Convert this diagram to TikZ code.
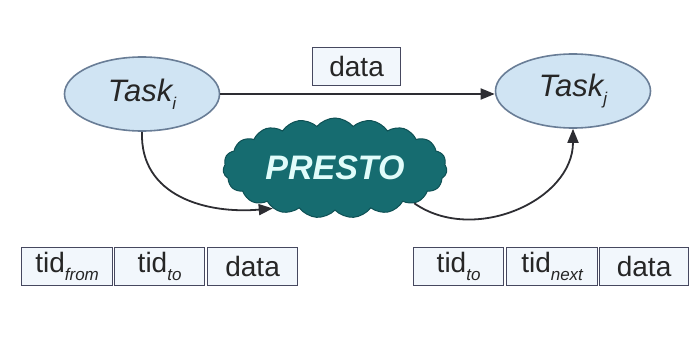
\documentclass[tikz,border=0pt]{standalone}
\usepackage{fontspec}
\setmainfont{Liberation Sans}
\usetikzlibrary{shapes.symbols,shapes.geometric,arrows.meta}

\definecolor{taskfill}{RGB}{208,228,243}
\definecolor{taskline}{RGB}{105,125,150}
\definecolor{cloudfill}{RGB}{22,108,112}
\definecolor{cloudline}{RGB}{14,80,84}
\definecolor{cloudtext}{RGB}{225,252,250}
\definecolor{boxfill}{RGB}{242,247,252}
\definecolor{boxline}{RGB}{70,72,95}
\definecolor{arrowgray}{RGB}{45,45,50}

% lowered italic subscript used in the field and task labels
\newcommand\lowsub[1]{\raisebox{-0.5ex}{\fontsize{17}{19}\selectfont\itshape #1}}

\tikzset{
  task/.style={ellipse, draw=taskline, line width=1.6pt, fill=taskfill,
    minimum width=155pt, minimum height=74pt, inner sep=0pt,
    text=black!85, font=\fontsize{31}{35}\selectfont\itshape},
  field/.style={rectangle, draw=boxline, line width=1.2pt, fill=boxfill,
    minimum height=38pt, inner sep=0pt, anchor=north west,
    font=\fontsize{28}{32}\selectfont, text=black!85},
  flow/.style={draw=arrowgray, line width=1.8pt,
    -{Triangle[length=14pt,width=11pt]}},
}

\begin{document}
\begin{tikzpicture}[x=1pt,y=-1pt]
  \useasboundingbox (0,0) rectangle (699,345);

  % the two tasks
  \node[task] (ti) at (142,94) {Task\lowsub{i}};
  \node[task] (tj) at (573,91) {Task\lowsub{j}};

  % direct data transfer
  \draw[flow] (ti.east) -- (tj.west |- ti.east);
  \node[field, minimum width=88pt] (dtop) at (312,47) {data};

  % the PRESTO middleware cloud
  \node[cloud, cloud puffs=19, cloud puff arc=100, aspect=2.3,
        draw=cloudline, line width=1pt, fill=cloudfill,
        minimum width=224pt, minimum height=100pt, inner sep=0pt,
        text=cloudtext, font=\fontsize{34}{38}\selectfont\bfseries\itshape]
        (presto) at (335,168) {PRESTO};

  % routes through the middleware
  \draw[flow] (ti.south) to[out=-92,in=185,looseness=1.1] (presto.213);
  \draw[flow] (presto.-24) to[out=-35,in=-90,looseness=1.05] (tj.south);

  % message layout sent into the middleware
  \node[field, minimum width=91pt] (f1) at (21,247) {tid\lowsub{from}};
  \node[field, minimum width=90pt] (f2) at (114,247) {tid\lowsub{to}};
  \node[field, minimum width=90pt] (f3) at (207,247) {data};

  % message layout delivered by the middleware
  \node[field, minimum width=90pt] (g1) at (413,247) {tid\lowsub{to}};
  \node[field, minimum width=91pt] (g2) at (506,247) {tid\lowsub{next}};
  \node[field, minimum width=89pt] (g3) at (599,247) {data};
\end{tikzpicture}
\end{document}
